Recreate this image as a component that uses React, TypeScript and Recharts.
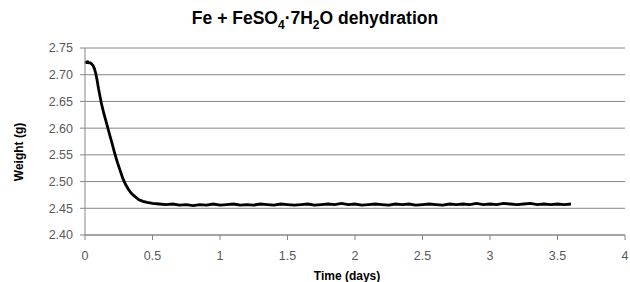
import { LineChart, Line, XAxis, YAxis, CartesianGrid } from "recharts";

const timeDays = [
  0, 0.01, 0.02, 0.03, 0.04, 0.05, 0.06, 0.07, 0.08, 0.09, 0.1, 0.12, 0.14, 0.16, 0.18,
  0.2, 0.22, 0.24, 0.26, 0.28, 0.3, 0.32, 0.34, 0.36, 0.38, 0.4, 0.43, 0.46, 0.5, 0.55,
  0.6, 0.65, 0.7, 0.75, 0.8, 0.85, 0.9, 0.95, 1.0, 1.05, 1.1, 1.15, 1.2, 1.25, 1.3, 1.35,
  1.4, 1.45, 1.5, 1.55, 1.6, 1.65, 1.7, 1.75, 1.8, 1.85, 1.9, 1.95, 2.0, 2.05, 2.1, 2.15,
  2.2, 2.25, 2.3, 2.35, 2.4, 2.45, 2.5, 2.55, 2.6, 2.65, 2.7, 2.75, 2.8, 2.85, 2.9, 2.95,
  3.0, 3.05, 3.1, 3.15, 3.2, 3.25, 3.3, 3.35, 3.4, 3.45, 3.5, 3.55, 3.6,
];

const weightG = [
  2.724, 2.723, 2.724, 2.722, 2.722, 2.720, 2.717, 2.711, 2.702, 2.689, 2.674, 2.648, 2.627, 2.609, 2.590,
  2.572, 2.553, 2.536, 2.521, 2.506, 2.495, 2.486, 2.479, 2.474, 2.470, 2.466, 2.463, 2.461, 2.459, 2.458,
  2.457, 2.458, 2.456, 2.457, 2.455, 2.457, 2.456, 2.458, 2.456, 2.457, 2.458, 2.456, 2.457, 2.456, 2.458, 2.457,
  2.456, 2.458, 2.457, 2.456, 2.457, 2.458, 2.456, 2.457, 2.458, 2.457, 2.459, 2.457, 2.458, 2.456, 2.457, 2.458,
  2.457, 2.456, 2.458, 2.457, 2.458, 2.456, 2.457, 2.458, 2.457, 2.456, 2.458, 2.457, 2.458, 2.457, 2.459, 2.457,
  2.458, 2.457, 2.459, 2.458, 2.457, 2.458, 2.459, 2.457, 2.458, 2.457, 2.458, 2.457, 2.458,
];

const xTicks = [0, 0.5, 1, 1.5, 2, 2.5, 3, 3.5, 4];
const yTicks = [2.4, 2.45, 2.5, 2.55, 2.6, 2.65, 2.7, 2.75];

const font = "'Liberation Sans', Arial, sans-serif";
const gray = "#868686";

export default function App() {
  const data = timeDays.map((t, i) => ({ t, w: weightG[i] }));

  return (
    <div style={{ position: "absolute", left: 0, top: 0, width: 630, height: 282, background: "#fff", fontFamily: font }}>
      <div
        style={{
          position: "absolute",
          top: 8,
          left: 0,
          width: 630,
          textAlign: "center",
          fontSize: 17.5,
          fontWeight: "bold",
          color: "#000",
        }}
      >
        Fe + FeSO<sub style={{ fontSize: 12 }}>4</sub>·7H<sub style={{ fontSize: 12 }}>2</sub>O dehydration
      </div>
      <div
        style={{
          position: "absolute",
          left: 19,
          top: 152,
          transform: "translate(-50%, -50%) rotate(-90deg)",
          fontSize: 12,
          fontWeight: "bold",
          whiteSpace: "nowrap",
          color: "#000",
        }}
      >
        Weight (g)
      </div>
      <div
        style={{
          position: "absolute",
          left: 347,
          top: 276,
          transform: "translate(-50%, -50%)",
          fontSize: 12,
          fontWeight: "bold",
          whiteSpace: "nowrap",
          color: "#000",
        }}
      >
        Time (days)
      </div>
      <LineChart width={630} height={282} data={data} margin={{ top: 48, right: 5, left: 0, bottom: 0 }}>
        <CartesianGrid vertical={false} stroke={gray} strokeWidth={1} />
        <XAxis
          dataKey="t"
          type="number"
          domain={[0, 4]}
          ticks={xTicks}
          interval={0}
          height={47}
          stroke={gray}
          tickSize={5}
          tickMargin={11}
          tick={{ fill: "#595959", fontSize: 12.5, fontFamily: font }}
          tickFormatter={(v: number) => String(v)}
        />
        <YAxis
          type="number"
          domain={[2.4, 2.75]}
          ticks={yTicks}
          interval={0}
          width={85}
          stroke={gray}
          tickSize={5}
          tickMargin={7}
          tick={{ fill: "#595959", fontSize: 12.5, fontFamily: font }}
          tickFormatter={(v: number) => v.toFixed(2)}
        />
        <Line
          dataKey="w"
          type="linear"
          stroke="#000"
          strokeWidth={2.8}
          dot={false}
          isAnimationActive={false}
        />
      </LineChart>
    </div>
  );
}
